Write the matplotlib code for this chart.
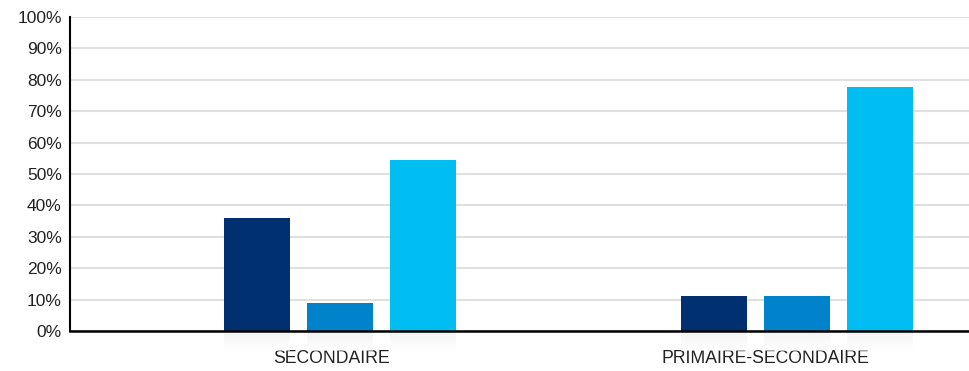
import numpy as np
import matplotlib.pyplot as plt

categories = ['SECONDAIRE', 'PRIMAIRE-SECONDAIRE']
# four series; the first one is empty in both groups
serie_0 = [0, 0]
serie_1 = [36, 11]
serie_2 = [9, 11]
serie_3 = [54.5, 77.7]
series = [serie_0, serie_1, serie_2, serie_3]
colors = ['#ffffff', '#00306f', '#0083ca', '#00bdf2']
yticks = list(range(0, 101, 10))

plt.rcParams['font.family'] = ['Liberation Sans', 'DejaVu Sans']

fig = plt.figure(figsize=(9.7, 3.71), dpi=100)
ax = fig.add_axes([0.0722, 0.108, 0.928, 0.846])

step = 0.1816
width = 0.144
x = np.arange(len(categories))
grad = np.linspace(0.16, 0.0, 50).reshape(-1, 1)

for i, vals in enumerate(series):
    pos = x + (i - 1.5) * step
    if max(vals) == 0:
        continue
    ax.bar(pos, vals, width=width, color=colors[i], zorder=3)
    # faint reflection below the axis
    for p in pos:
        ax.imshow(grad, cmap='Greys', vmin=0, vmax=1, alpha=0.6,
                  extent=[p - width / 2, p + width / 2, -6.5, 0],
                  aspect='auto', clip_on=False, zorder=1)

ax.set_ylim(0, 100)
ax.set_xlim(-0.5, 1.469)
ax.set_yticks(yticks)
ax.set_yticklabels([f'{t}%' for t in yticks], fontsize=12.5, color='#222222')
# labels sit slightly right of the group centre in the original
ax.set_xticks(x + np.array([0.073, 0.02]))
ax.set_xticklabels(categories, fontsize=12.7, color='#222222')
ax.tick_params(axis='both', length=0)
ax.tick_params(axis='x', pad=14)
ax.tick_params(axis='y', pad=6)

ax.grid(axis='y', color='#e0e0e0', linewidth=1.5, zorder=0)
ax.set_axisbelow(True)
for s in ['top', 'right']:
    ax.spines[s].set_visible(False)
ax.spines['left'].set_linewidth(1.5)
ax.spines['bottom'].set_linewidth(1.8)
ax.spines['bottom'].set_zorder(5)

fig.savefig('out.png', dpi=100)
